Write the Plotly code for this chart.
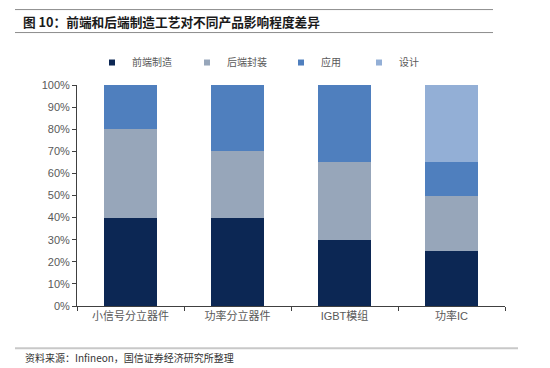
import plotly.graph_objects as go

categories = ["小信号分立器件", "功率分立器件", "IGBT模组", "功率IC"]
series_names = ["前端制造", "后端封装", "应用", "设计"]
front_end = [40, 40, 30, 25]
back_end = [40, 30, 35, 25]
application = [20, 30, 35, 15]
design = [0, 0, 0, 35]
series_values = [front_end, back_end, application, design]
colors = ["#0C2754", "#97A6BA", "#4F7FBE", "#93AFD6"]
y_ticks = [0, 10, 20, 30, 40, 50, 60, 70, 80, 90, 100]
y_tick_labels = [f"{v}%" for v in y_ticks]

# page body has an 8px margin; figure is sized so that it fills the window
OFF = 8
W, H = 550 - OFF, 368 - OFF
PLOT_L, PLOT_R, PLOT_T, PLOT_B = 77, 505, 84.5, 305.7   # in window pixels
PW, PH = PLOT_R - PLOT_L, PLOT_B - PLOT_T


def px_x(x):
    return (x - PLOT_L) / PW


def px_y(y):
    return (PLOT_B - y) / PH


fig = go.Figure()
for name, vals, col in zip(series_names, series_values, colors):
    fig.add_trace(go.Bar(x=categories, y=vals, name=name, showlegend=False,
                         marker=dict(color=col, line=dict(width=0)), width=0.5))

# one small legend per entry, placed like the reference
legend_text_x = [128, 223, 317, 395]
legend_names = ["legend", "legend2", "legend3", "legend4"]
legend_layout = {}
for name, col, lg, tx in zip(series_names, colors, legend_names, legend_text_x):
    fig.add_trace(go.Scatter(x=[None], y=[None], mode="markers", name=name, legend=lg,
                             marker=dict(symbol="square", size=6, color=col)))
    legend_layout[lg] = dict(orientation="h", x=px_x(tx - 36 - OFF + OFF), xanchor="left",
                             y=px_y(62), yanchor="middle", bgcolor="rgba(0,0,0,0)",
                             font=dict(family="Noto Sans CJK SC", size=10, color="#595959"))

fig.update_layout(
    width=W, height=H,
    barmode="stack",
    margin=dict(l=PLOT_L - OFF, r=W - (PLOT_R - OFF), t=PLOT_T - OFF, b=H - (PLOT_B - OFF),
                autoexpand=False),
    paper_bgcolor="white", plot_bgcolor="white",
    font=dict(family="Liberation Sans, Noto Sans CJK SC", size=11, color="#595959"),
    showlegend=True,
    xaxis=dict(type="category", showline=True, linecolor="#404040", linewidth=1,
               ticks="outside", tickson="boundaries", ticklen=4, tickcolor="#404040",
               tickfont=dict(family="Liberation Sans, Noto Sans CJK SC", size=11, color="#595959"),
               showgrid=False, range=[-0.5, 3.5]),
    yaxis=dict(range=[0, 100], tickvals=y_ticks, ticktext=y_tick_labels, showline=True,
               linecolor="#404040", linewidth=1, ticks="outside", ticklen=4, tickcolor="#404040",
               showgrid=False, zeroline=False,
               tickfont=dict(family="Liberation Sans", size=11, color="#595959")),
    **legend_layout,
)

# title and rules
fig.add_shape(type="line", xref="paper", yref="paper", x0=px_x(15), x1=px_x(493),
              y0=px_y(9), y1=px_y(9), line=dict(color="#8c8c8c", width=1))
fig.add_shape(type="line", xref="paper", yref="paper", x0=px_x(15), x1=px_x(493),
              y0=px_y(32), y1=px_y(32), line=dict(color="#8c8c8c", width=1))
fig.add_shape(type="line", xref="paper", yref="paper", x0=px_x(15), x1=px_x(518),
              y0=px_y(348), y1=px_y(348), line=dict(color="#c8c8c8", width=2))

fig.add_annotation(text="<b>图 10：前端和后端制造工艺对不同产品影响程度差异</b>", xref="paper", yref="paper",
                   x=px_x(21), xanchor="left", y=px_y(21), yanchor="middle",
                   showarrow=False, font=dict(family="Noto Sans CJK SC", size=12.7, color="#1a1a1a"))
fig.add_annotation(text="资料来源：Infineon，国信证券经济研究所整理", xref="paper", yref="paper",
                   x=px_x(23), xanchor="left", y=px_y(357), yanchor="middle",
                   showarrow=False, font=dict(family="Noto Sans CJK SC", size=10, color="#333333"))

fig.write_html("out.html")
